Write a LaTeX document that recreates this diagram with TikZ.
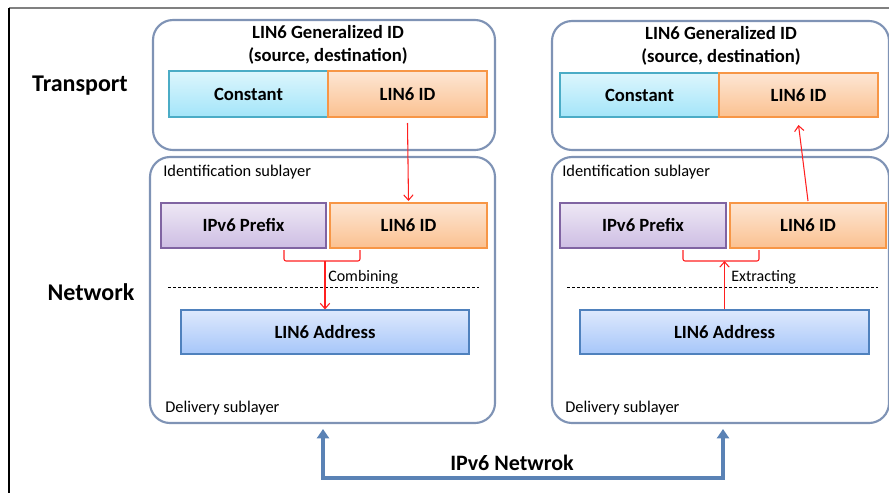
\documentclass[tikz,border=0pt]{standalone}
\usepackage{fontspec}
\setmainfont{Carlito}
\usetikzlibrary{fit,arrows.meta,shadows}
\definecolor{layerc}{HTML}{7F93B5}
\definecolor{constb}{HTML}{4BACC6}
\definecolor{constt}{HTML}{DDF6FD}
\definecolor{constbot}{HTML}{A3E5F9}
\definecolor{lidb}{HTML}{F79646}
\definecolor{lidt}{HTML}{FDE6D4}
\definecolor{lidbot}{HTML}{FBC190}
\definecolor{preb}{HTML}{8064A2}
\definecolor{pret}{HTML}{EEE8F5}
\definecolor{prebot}{HTML}{CDBDE3}
\definecolor{addrb}{HTML}{4F81BD}
\definecolor{addrt}{HTML}{DEE9FD}
\definecolor{addrbot}{HTML}{A6C6F9}
\definecolor{netc}{HTML}{5A82B5}
\definecolor{redc}{HTML}{FF2020}
\begin{document}
\begin{tikzpicture}[x=0.75pt,y=-0.75pt,
  layer/.style={draw=layerc, line width=1.6pt, rounded corners=15pt, inner sep=0pt},
  cell/.style={inner sep=0pt, line width=0.8pt,
     drop shadow={shadow xshift=0.8pt, shadow yshift=-0.8pt, opacity=0.25, fill=black}},
  celltext/.style={font=\bfseries\fontsize{14}{16}\selectfont},
  constbox/.style={cell, draw=constb, top color=constt, bottom color=constbot},
  lidbox/.style={cell, draw=lidb, top color=lidt, bottom color=lidbot},
  prebox/.style={cell, draw=preb, top color=pret, bottom color=prebot},
  addrbox/.style={cell, draw=addrb, top color=addrt, bottom color=addrbot},
  biglabel/.style={font=\bfseries\fontsize{18}{21}\selectfont},
  title/.style={font=\bfseries\fontsize{14}{17.5}\selectfont, align=center},
  sublabel/.style={font=\fontsize{12.3}{14}\selectfont, anchor=west, inner sep=0pt},
  oplabel/.style={font=\fontsize{12}{14}\selectfont, anchor=west, inner sep=0pt},
  redarrow/.style={draw=redc, line width=0.8pt, -{Straight Barb[length=4pt,width=7pt]}},
  bracket/.style={draw=redc, line width=0.8pt, rounded corners=1.5pt},
  sepline/.style={dashed, line width=0.6pt, dash pattern=on 2.2pt off 1.6pt},
  netarrow/.style={draw=netc, line width=3pt, {Triangle[length=7pt,width=9pt]}-{Triangle[length=7pt,width=9pt]}}
]
\useasboundingbox (0,0) rectangle (889,493);
% frame
\draw[gray, line width=1.5pt] (9,8) -- (889,8);
\draw[black, line width=1.1pt] (9,8) -- (9,493);

% side labels
\node[biglabel] (transport) at (80,86) {Transport};
\node[biglabel] (network) at (91,292) {Network};

% ===== left stack =====
\node[layer, fit={(153,20) (495,150)}] (tl) {};
\node[layer, fit={(150,157) (495,423)}] (bl) {};
\node[title] (tlt) at (328,45) {LIN6 Generalized ID\\(source, destination)};
\node[constbox, fit={(169,71) (328,117)}] (c1) {};
\node[celltext] at (c1.center) {Constant};
\node[lidbox, fit={(328,71) (487,117)}] (t1) {};
\node[celltext] at (t1.center) {LIN6 ID};
\node[sublabel] (id1) at (163,172) {Identification sublayer};
\node[prebox, fit={(161,203) (326,248)}] (p1) {};
\node[celltext] at (p1.center) {IPv6 Prefix};
\node[lidbox, fit={(330,203) (487,248)}] (l1) {};
\node[celltext] at (l1.center) {LIN6 ID};
\draw[sepline] (168,287) -- (479,287);
\node[addrbox, fit={(181,310) (469,354)}] (a1) {};
\node[celltext] at (a1.center) {LIN6 Address};
\node[sublabel] (dl1) at (165,408) {Delivery sublayer};
\draw[bracket] (284,250) -- (284,261) -- (360,261) -- (360,250);
\coordinate (br1) at (a1.north |- 0,261);
\node[oplabel] (comb) at (328,277) {Combining};
\draw[redarrow] (t1.south |- 0,123) -- (l1.north |- 0,201);
\draw[redarrow] (br1) -- (a1.north);

% ===== right stack =====
\node[layer, fit={(552,21) (889,150)}] (tr) {};
\node[layer, fit={(552,157) (889,423)}] (br) {};
\node[title] (trt) at (721,46) {LIN6 Generalized ID\\(source, destination)};
\node[constbox, fit={(560,73) (719,117)}] (c2) {};
\node[celltext] at (c2.center) {Constant};
\node[lidbox, fit={(719,73) (878,117)}] (t2) {};
\node[celltext] at (t2.center) {LIN6 ID};
\node[sublabel] (id2) at (562,172) {Identification sublayer};
\node[prebox, fit={(560,203) (726,248)}] (p2) {};
\node[celltext] at (p2.center) {IPv6 Prefix};
\node[lidbox, fit={(730,203) (886,248)}] (l2) {};
\node[celltext] at (l2.center) {LIN6 ID};
\draw[sepline] (567,287) -- (878,287);
\node[addrbox, fit={(580,310) (869,354)}] (a2) {};
\node[celltext] at (a2.center) {LIN6 Address};
\node[sublabel] (dl2) at (565,408) {Delivery sublayer};
\draw[bracket] (683,250) -- (683,261) -- (759,261) -- (759,250);
\coordinate (br2) at (a2.north |- 0,261);
\node[oplabel] (extr) at (731,277) {Extracting};
\draw[redarrow] (l2.north |- 0,201) -- (t2.south |- 0,125);
\draw[redarrow] (a2.north) -- (br2);

% ===== network arrow =====
\coordinate (n1) at (323,429);
\coordinate (n2) at (723,429);
\draw[netarrow] (n1) -- (323,478) -- (723,478) -- (n2);
\node[font=\bfseries\fontsize{16.5}{19}\selectfont] (net) at (512,463) {IPv6 Netwrok};
\end{tikzpicture}
\end{document}
